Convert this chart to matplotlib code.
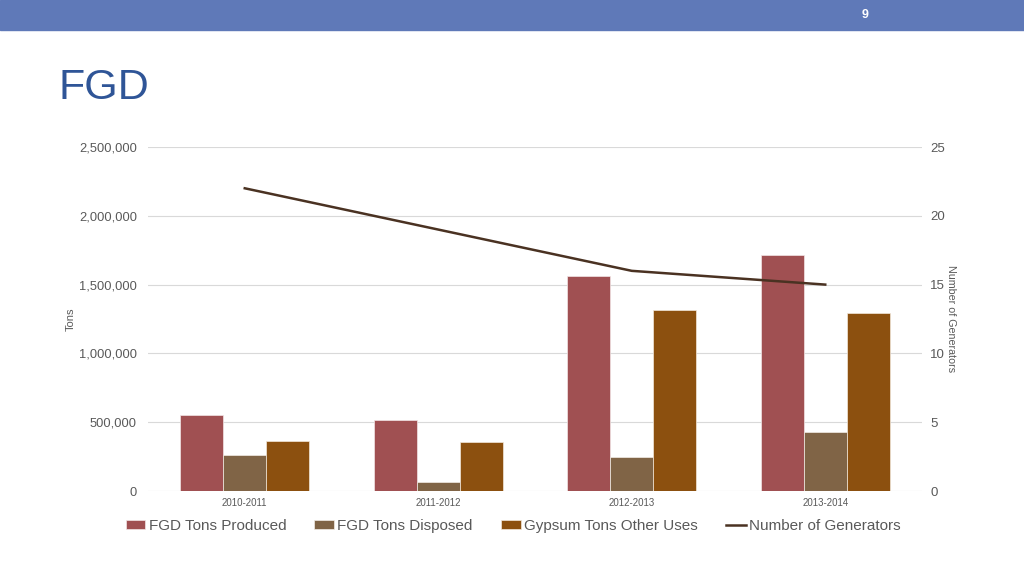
import matplotlib
matplotlib.use("Agg")
import numpy as np
from matplotlib import pyplot as plt
from matplotlib.ticker import FuncFormatter

# data
years = ["2010-2011", "2011-2012", "2012-2013", "2013-2014"]
tons_produced = [550000, 516000, 1566000, 1715000]
tons_disposed = [265000, 69000, 247000, 432000]
gypsum_other = [360000, 356000, 1315000, 1297000]
generators = [22, 19, 16, 15]

plt.rcParams['font.family'] = ['Liberation Sans', 'DejaVu Sans']
grey = '#595959'

fig = plt.figure(figsize=(10.24, 5.76), dpi=100)

# slide header band, page number and title
fig.patches.append(plt.Rectangle((0, 1 - 30 / 576), 1, 30 / 576, transform=fig.transFigure,
                                 color='#5f79b8', zorder=0))
fig.text(865 / 1024, 1 - 15 / 576, "9", color='white', fontsize=9, fontweight='bold',
         ha='center', va='center')
fig.text(59 / 1024, 1 - 88 / 576, "FGD", color='#2f5597', fontsize=31,
         family=['Liberation Sans Narrow', 'Liberation Sans'], ha='left', va='center')

ax = fig.add_axes([148 / 1024, 1 - 491 / 576, 774 / 1024, 344 / 576])
ax2 = ax.twinx()

x = np.arange(len(years))
w = 0.222
ax.bar(x - w, tons_produced, w, color='#a05052', edgecolor='#f2e6e6', linewidth=0.5,
       label='FGD Tons Produced', zorder=2)
ax.bar(x, tons_disposed, w, color='#806446', edgecolor='#f2ece6', linewidth=0.5,
       label='FGD Tons Disposed', zorder=2)
ax.bar(x + w, gypsum_other, w, color='#8c500f', edgecolor='#f2e8dc', linewidth=0.5,
       label='Gypsum Tons Other Uses', zorder=2)
ax2.plot(x, generators, color='#4a3222', linewidth=1.8, label='Number of Generators')

ax.set_xlim(-0.5, len(years) - 0.5)
ax.set_ylim(0, 2500000)
ax2.set_ylim(0, 25)
ax.set_yticks(np.arange(0, 2500001, 500000))
ax2.set_yticks(np.arange(0, 26, 5))
ax.yaxis.set_major_formatter(FuncFormatter(lambda v, p: f"{int(v):,}"))
ax.grid(axis='y', color='#d9d9d9', linewidth=0.8, zorder=0)
ax.set_axisbelow(True)

for a in (ax, ax2):
    for s in a.spines.values():
        s.set_visible(False)
    a.tick_params(length=0, colors=grey)

ax.set_xticks(x)
ax.set_xticklabels(years, fontsize=7)
ax.tick_params(axis='x', pad=5)
ax.tick_params(axis='y', labelsize=9.3, pad=8)
ax2.tick_params(axis='y', labelsize=9.5, pad=6)
ax.set_ylabel("Tons", fontsize=8, color=grey, labelpad=2)
ax2.set_ylabel("Number of Generators", fontsize=7.7, color=grey, rotation=-90, labelpad=8)

h1, l1 = ax.get_legend_handles_labels()
h2, l2 = ax2.get_legend_handles_labels()
fig.legend(h1 + h2, l1 + l2, loc='center', bbox_to_anchor=(513 / 1024, 1 - 526 / 576),
           ncol=4, frameon=False, fontsize=11, labelcolor=grey, handlelength=1.3,
           handleheight=0.45, handletextpad=0.2, columnspacing=1.85)

fig.savefig("out.png", dpi=100)
